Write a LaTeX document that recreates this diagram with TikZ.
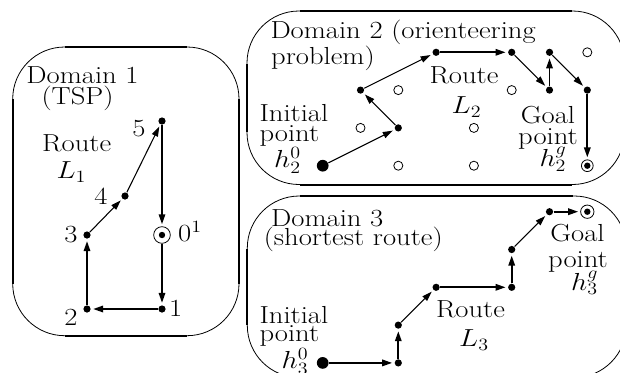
\RequirePackage{fix-cm}
\documentclass[tikz,border=0pt]{standalone}
\usepackage{graphicx}
\usetikzlibrary{arrows.meta}

\newcommand{\widetext}[1]{\scalebox{1.16}[1]{#1}}

\tikzset{every picture/.style={line width=0.75pt}}
\tikzset{
  lbl/.style={inner sep=0pt, font=\fontsize{18.5}{18.5}\selectfont},
  dot/.style={circle, fill, inner sep=0pt, minimum size=5.4pt},
  bigdot/.style={circle, fill, inner sep=0pt, minimum size=8.8pt},
  hole/.style={circle, draw, line width=0.6pt, inner sep=0pt, minimum size=6.8pt},
  goal/.style={circle, draw, line width=0.6pt, inner sep=0pt, minimum size=#1,
    path picture={\fill (path picture bounding box.center) circle (2.4pt);}},
  leg/.style={line width=0.8pt, shorten >=1.5pt, -{Triangle[length=7.5pt,width=4.8pt]}},
  legbold/.style={leg, line width=1.4pt},
  framearc/.style={line width=0.6pt, rounded corners=39pt},
  framebar/.style={line width=1.5pt},
}

\begin{document}
\begin{tikzpicture}[x=0.75pt,y=0.75pt,yscale=-1,xscale=1]
\clip (0,0) rectangle (620,372);

%Domain frames
\draw [framearc] (12.7,47) rectangle (239,335.7);
\draw [framebar] (64.7,47) -- (187,47) (64.7,335.7) -- (187,335.7) (12.7,99) -- (12.7,283.7) (239,99) -- (239,283.7);
\draw [framearc] (247,11) rectangle (624.5,184.5);
\draw [framebar] (300,11) -- (571.5,11) (300,184.5) -- (571.5,184.5) (247,64) -- (247,131.5);
\draw [framearc] (247.3,196) rectangle (626.3,377.5);
\draw [framebar] (300.3,196) -- (573.3,196) (247.3,249) -- (247.3,324.5);

% Domain 1 (TSP)
\node [dot] (tsp5) at (162,121) {};
\node [dot] (tsp4) at (125,196) {};
\node [dot] (tsp3) at (87,235) {};
\node [goal=12.5pt] (tsp0) at (162,235) {};
\node [dot] (tsp2) at (87,309) {};
\node [dot] (tsp1) at (162,309) {};
\draw [legbold] (tsp0) -- (tsp1);
\draw [legbold] (tsp1) -- (tsp2);
\draw [legbold] (tsp2) -- (tsp3);
\draw [leg] (tsp3) -- (tsp4);
\draw [leg] (tsp4) -- (tsp5);
\draw [legbold] (tsp5) -- (tsp0);

\node [lbl, anchor=base] (tspname) at (82.5,83.3) {\widetext{Domain 1}};
\node [lbl, anchor=base] (tspkind) at (77.5,104.5) {\widetext{(TSP)}};
\node [lbl, anchor=base] (tsproute) at (76.7,151) {\widetext{Route}};
\node [lbl, anchor=base] (tsproutel) at (71.5,178.5) {\widetext{$L_1$}};
\node [lbl, anchor=base] (tsplbl5) at (139,136) {\widetext{5}};
\node [lbl, anchor=base] (tsplbl4) at (101,204) {\widetext{4}};
\node [lbl, anchor=base] (tsplbl3) at (71,242.7) {\widetext{3}};
\node [lbl, anchor=base west] (tsplbl0) at (177.7,241.7) {\widetext{$0^1$}};
\node [lbl, anchor=base] (tsplbl2) at (71,325.3) {\widetext{2}};
\node [lbl, anchor=base] (tsplbl1) at (175.7,316.7) {\widetext{1}};

% Domain 2 (orienteering problem)
\node [bigdot] (op0) at (322.7,165.7) {};
\node [dot] (op1) at (398.3,127.9) {};
\node [dot] (op2) at (360.5,90.1) {};
\node [dot] (op3) at (436.1,52.3) {};
\node [dot] (op4) at (511.7,52.3) {};
\node [dot] (op5) at (549.5,90.1) {};
\node [dot] (op6) at (549.5,52.3) {};
\node [dot] (op7) at (587.3,90.1) {};
\node [goal=8.8pt] (opg) at (587.3,165.7) {};
\node [hole] (hole1) at (398.3,90.1) {};
\node [hole] (hole2) at (511.7,90.1) {};
\node [hole] (hole3) at (587.3,52.3) {};
\node [hole] (hole4) at (360.5,127.9) {};
\node [hole] (hole5) at (473.9,127.9) {};
\node [hole] (hole6) at (398.3,165.7) {};
\node [hole] (hole7) at (473.9,165.7) {};
\draw [leg] (op0) -- (op1);
\draw [leg] (op1) -- (op2);
\draw [leg] (op2) -- (op3);
\draw [legbold] (op3) -- (op4);
\draw [leg] (op4) -- (op5);
\draw [legbold] (op5) -- (op6);
\draw [leg] (op6) -- (op7);
\draw [legbold] (op7) -- (opg);

\node [lbl, anchor=base west] (opname) at (270,38) {\widetext{Domain 2 (orienteering}};
\node [lbl, anchor=base west] (opkind) at (270.7,64) {\widetext{problem)}};
\node [lbl, anchor=base] (oproute) at (464,83.3) {\widetext{Route}};
\node [lbl, anchor=base] (oproutel) at (466.5,113.3) {\widetext{$L_2$}};
\node [lbl, anchor=base west] (opinit) at (259,121.7) {\widetext{Initial}};
\node [lbl, anchor=base west] (opinitp) at (259,141.7) {\widetext{point}};
\node [lbl, anchor=base] (opinith) at (287.5,167) {\widetext{$h_2^0$}};
\node [lbl, anchor=base] (opgoal) at (548,123.3) {\widetext{Goal}};
\node [lbl, anchor=base] (opgoalp) at (548,144) {\widetext{point}};
\node [lbl, anchor=base] (opgoalh) at (553,166.7) {\widetext{$h_2^g$}};

% Domain 3 (shortest route)
\node [bigdot] (sr0) at (322.7,362.9) {};
\node [dot] (sr1) at (398.3,362.9) {};
\node [dot] (sr2) at (398.3,325.1) {};
\node [dot] (sr3) at (436.1,287.3) {};
\node [dot] (sr4) at (511.7,287.3) {};
\node [dot] (sr5) at (511.7,249.5) {};
\node [dot] (sr6) at (549.5,211.7) {};
\node [goal=10pt] (srg) at (587.3,211.7) {};
\draw [legbold] (sr0) -- (sr1);
\draw [legbold] (sr1) -- (sr2);
\draw [leg] (sr2) -- (sr3);
\draw [legbold] (sr3) -- (sr4);
\draw [legbold] (sr4) -- (sr5);
\draw [leg] (sr5) -- (sr6);
\draw [legbold] (sr6) -- (srg);

\node [lbl, anchor=base west] (srname) at (270.7,226.7) {\widetext{Domain 3}};
\node [lbl, anchor=base west] (srkind) at (263.3,245.7) {\widetext{(shortest route)}};
\node [lbl, anchor=base west] (srinit) at (259,323.3) {\widetext{Initial}};
\node [lbl, anchor=base west] (srinitp) at (259,341.7) {\widetext{point}};
\node [lbl, anchor=base] (srinith) at (295,368) {\widetext{$h_3^0$}};
\node [lbl, anchor=base] (srgoal) at (577.5,241.7) {\widetext{Goal}};
\node [lbl, anchor=base] (srgoalp) at (578,267.3) {\widetext{point}};
\node [lbl, anchor=base] (srgoalh) at (584.7,290) {\widetext{$h_3^g$}};
\node [lbl, anchor=base] (srroute) at (470.5,317.7) {\widetext{Route}};
\node [lbl, anchor=base] (srroutel) at (474,346.7) {\widetext{$L_3$}};

\end{tikzpicture}
\end{document}
